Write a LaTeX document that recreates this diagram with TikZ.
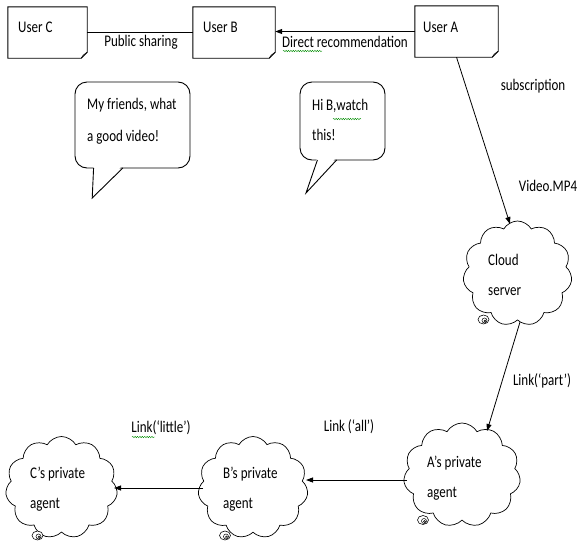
\documentclass[tikz,border=0pt]{standalone}
\usepackage{fontspec}
\setmainfont{Carlito}
\usepackage{graphicx}
\usetikzlibrary{shapes.symbols,arrows.meta,decorations.pathmorphing,calc}
\newcommand{\vs}[1]{\scalebox{1}[1.25]{#1}}
\newcommand{\notebox}[1]{%
  \draw[boxline] (#1.north west) -- (#1.north east) -- ([yshift=6pt]#1.south east)
    -- ([xshift=-6pt]#1.south east) -- (#1.south west) -- cycle;
  \draw[line width=0.6pt] ([yshift=6pt]#1.south east) -- ([xshift=-4pt,yshift=3pt]#1.south east)
    -- ([xshift=-6pt]#1.south east);}
\newcommand{\bubbles}[3]{%
  \draw[line width=0.6pt,fill=white] ($(#1.center)+(#2,#3)$) ellipse (5.5pt and 4.5pt);
  \draw[line width=0.5pt] ($(#1.center)+(#2,#3)+(1,1)$) circle (2.5pt);
  \draw[line width=0.5pt] ($(#1.center)+(#2,#3)+(1.5,1.5)$) circle (1.1pt);}
\begin{document}
\begin{tikzpicture}[x=1pt,y=-1pt,
  font=\fontsize{13}{15}\selectfont,
  boxline/.style={draw=black,line width=0.9pt},
  usrbox/.style={minimum width=#1,minimum height=51pt,inner sep=0pt},
  usrtxt/.style={anchor=west,inner sep=0pt},
  lbl/.style={inner sep=0pt},
  arr/.style={-{Triangle[length=7pt,width=5pt]},line width=0.8pt},
  plain/.style={line width=0.8pt},
  cl/.style={cloud,cloud puffs=11,cloud puff arc=120,cloud ignores aspect,draw,line width=0.7pt,inner sep=0pt,fill=white},
  cltxt/.style={align=left,anchor=west,inner sep=0pt,font=\fontsize{13}{30}\selectfont},
  bubble/.style={draw,line width=0.9pt,rounded corners=12pt,inner sep=0pt},
  squig/.style={draw=green!55!black,decorate,decoration={snake,amplitude=0.7pt,segment length=2.4pt},line width=0.4pt}]
\useasboundingbox (0,0) rectangle (577,549);

% user boxes
\node[usrbox=79pt] (uc) at (47.5,32.5) {};
\node[usrbox=82pt] (ub) at (234,32.5) {};
\node[usrbox=83pt] (ua) at (456.5,31.5) {};
\notebox{uc}\notebox{ub}\notebox{ua}
\node[usrtxt] (tuc) at (18,27) {\vs{User C}};
\node[usrtxt] (tub) at (203,27) {\vs{User B}};
\node[usrtxt] (tua) at (423,27) {\vs{User A}};

% top connectors
\draw[plain] (uc.east) -- (ub.west);
\draw[arr] (ua.west) -- (ua.west -| ub.east);
\node[lbl] (lps) at (141,42) {\vs{Public sharing}};
\node[lbl] (ldr) at (345,42) {\vs{Direct recommendation}};
\draw[squig] (283,51) -- (322,51);

% speech bubbles
\node[bubble,minimum width=115pt,minimum height=86pt] (sb1) at (132.5,125) {};
\fill[white] (93.6,165) -- (92.2,198) -- (122.8,165) -- cycle;
\draw[line width=0.9pt] (93.6,168) -- (92.2,198) -- (122.8,168);
\node[cltxt,font=\fontsize{13}{32}\selectfont] (tsb1) at (87,121) {\vs{My friends, what}\\\vs{a good video!}};

\node[bubble,minimum width=85pt,minimum height=78pt] (sb2) at (342.5,121) {};
\fill[white] (317.4,157) -- (306,193) -- (336.6,157) -- cycle;
\draw[line width=0.9pt] (317.4,160) -- (306,193) -- (336.6,160);
\node[cltxt,font=\fontsize{13}{30}\selectfont] (tsb2) at (312,120) {\vs{Hi B,watch}\\\vs{this!}};
\draw[squig] (333,119) -- (361,119);

% clouds
\node[cl,minimum width=109pt,minimum height=105pt] (cs) at (517.5,273.5) {};
\node[cl,minimum width=117pt,minimum height=104pt] (pa) at (462,475) {};
\node[cl,minimum width=110pt,minimum height=102pt] (pb) at (253,487.5) {};
\node[cl,minimum width=112pt,minimum height=102pt] (pc) at (61.5,487.5) {};
\bubbles{cs}{-34}{46}
\bubbles{pa}{-39}{45}
\bubbles{pb}{-28}{48}
\bubbles{pc}{-24}{48}
\node[cltxt] (tcs) at (488,275) {\vs{Cloud}\\\vs{server}};
\node[cltxt] (tpa) at (427,478) {\vs{A’s private}\\\vs{agent}};
\node[cltxt] (tpb) at (223,489) {\vs{B’s private}\\\vs{agent}};
\node[cltxt] (tpc) at (30,489) {\vs{C’s private}\\\vs{agent}};

% right-side connectors
\coordinate (aout) at (ua.south);
\coordinate (csin) at (510,224);
\coordinate (csout) at (520,322);
\coordinate (pain) at (487,431);
\draw[arr] (aout) -- (csin);
\draw[arr] (csout) -- (pain);
\node[lbl] (lsub) at (533,86) {\vs{subscription}};
\node[lbl] (lvid) at (548,186) {\vs{Video.MP4}};
\node[lbl] (lpart) at (542,381) {\vs{Link(‘part’)}};

% bottom connectors
\coordinate (paw) at (407,480);
\coordinate (pbe) at (306,480);
\coordinate (pbw) at (203,488);
\coordinate (pce) at (114,488);
\draw[arr] (paw) -- (pbe);
\draw[arr] (pbw) -- (pce);
\node[lbl] (lall) at (349,427) {\vs{Link (‘all’)}};
\node[lbl] (llit) at (161,428) {\vs{Link(‘little’)}};
\draw[squig] (132,437) -- (155,437);
\end{tikzpicture}
\end{document}
